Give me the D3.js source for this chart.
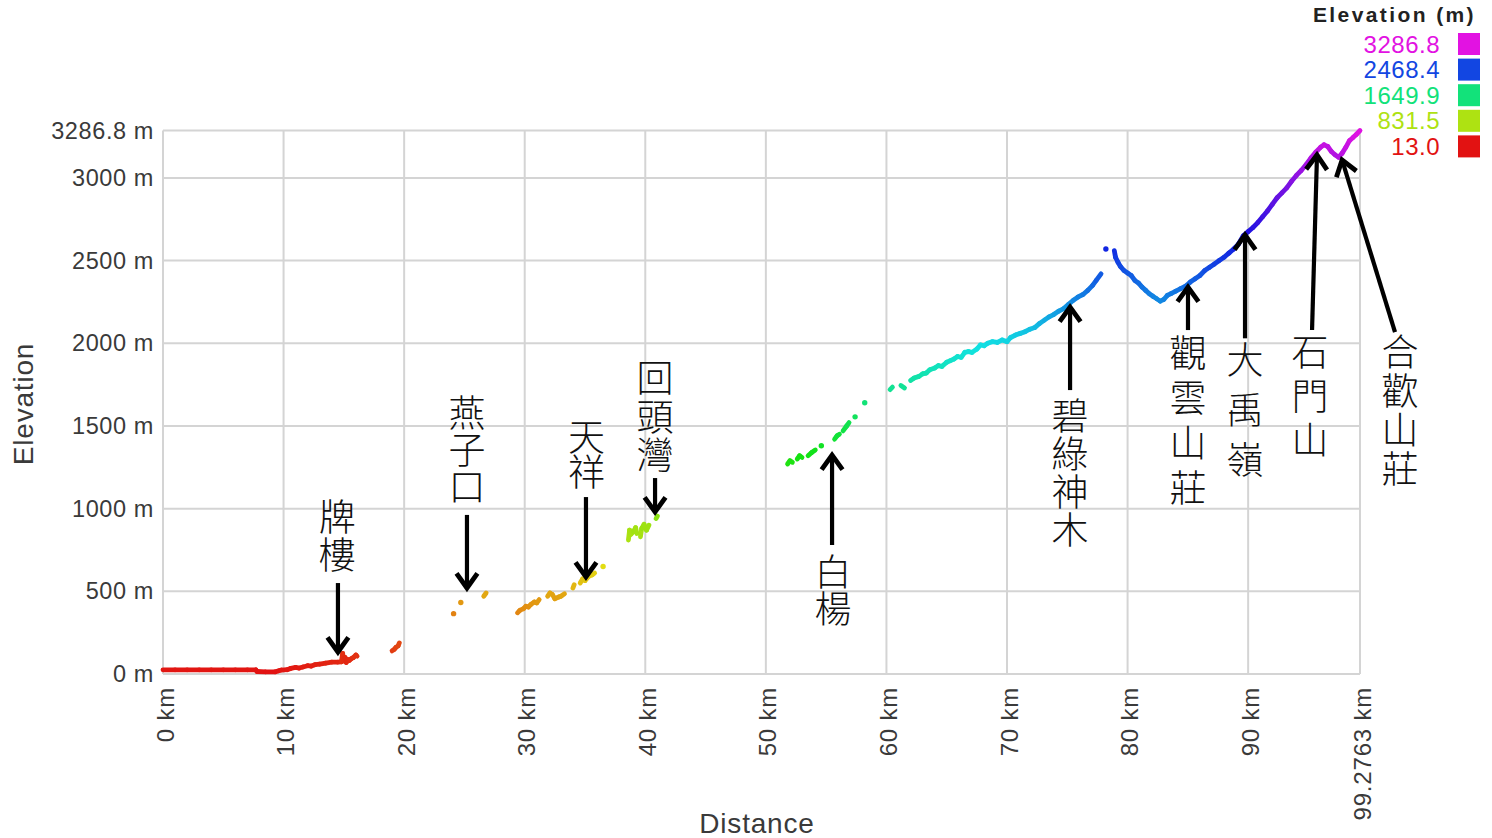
<!DOCTYPE html>
<html>
<head>
<meta charset="utf-8">
<script src="https://cdn.jsdelivr.net/npm/d3@7"></script>
<style>
  html, body { margin: 0; padding: 0; background: #fff; }
  svg { display: block; }
</style>
</head>
<body>
<svg id="chart" width="1492" height="838"></svg>
<script>
// ---------------- DATA ----------------
// Track distance (km) and elevation (m); null marks a gap in the recorded track.
const distanceKm = [
  0, 1, 2, 3, 4, 5, 6, 7, 7.7, 7.8, 8.5, 9.3, 9.6, 9.8, 10.3, 10.6, 11.0, 11.3, 11.6, 12.0, 12.3, 12.6, 13.0, 13.5, 14.0, 14.5, 14.8, 14.9, 15.0, 15.1, 15.2, 15.3, 15.45, 15.6, 15.8, 16.0, 16.1,
  null,
  19.0, 19.2, 19.3, 19.5, 19.6,
  null, 24.1, null, 24.7, null, 26.6, 26.8, null,
  29.4, 29.6, 29.9, 30.1, 30.3, 30.5, 30.8, 31.0, 31.2, null,
  31.9, 32.1, 32.3, 32.5, 32.8, 33.0, 33.3, null,
  34.0, 34.1, null, 34.6, 34.8, 35.0, 35.3, 35.6, 35.8, null, 36.5, null,
  38.6, 38.7, 38.8, 39.0, 39.2, 39.3, null, 39.6, 39.7, 39.9, 40.1, 40.3, null, 40.9, 41.0, null,
  51.8, 52.0, 52.2, null, 52.6, 52.8, 53.0, null, 53.5, 53.8, 54.1, null, 54.6, null,
  55.7, 55.9, 56.1, null, 56.4, 56.7, 56.9, null, 57.4, null, 58.2, null,
  60.3, 60.5, null, 61.2, 61.5, null,
  62.0, 62.3, 62.7, 63.0, 63.3, 63.6, 64.0, 64.3, 64.6, 65.0, 65.3, 65.6, 65.9, 66.2, 66.5, 66.8, 67.1, 67.5, 67.8, 68.1, 68.4, 68.8, 69.2, 69.6, 70.0, 70.3, 70.7, 71.1, 71.5, 71.9, 72.3, 72.7, 73.1, 73.5, 73.9, 74.3, 74.7, 75.1, 75.5, 75.9, 76.3, 76.7, 77.1, 77.4, 77.8,
  null, 78.2, null,
  78.9, 79.0, 79.2, 79.4, 79.7, 80.0, 80.3, 80.6, 80.9, 81.2, 81.5, 81.8, 82.1, 82.4, 82.7, 83.0, 83.3, 83.6, 84.0, 84.4, 84.8, 85.2, 85.6, 86.0, 86.4, 86.8, 87.2, 87.6, 88.0, 88.4, 88.8, 89.2, 89.6, 90.0, 90.4, 90.8, 91.2, 91.6, 92.0, 92.4, 92.8, 93.2, 93.6, 94.0, 94.4, 94.8, 95.2, 95.6, 96.0, 96.3, 96.6, 96.9, 97.2, 97.5, 97.8, 98.1, 98.4, 98.7, 99.0, 99.2763
];
const elevationM = [
  25, 25, 25, 25, 25, 25, 25, 25, 25, 15, 13, 13, 20, 24, 26, 34, 40, 36, 42, 50, 48, 56, 60, 66, 72, 72, 73, 125, 80, 100, 70, 88, 82, 92, 100, 115, 108,
  null,
  140, 150, 160, 170, 188,
  null, 365, null, 432, null, 470, 490, null,
  370, 385, 395, 410, 405, 420, 435, 430, 450, null,
  470, 490, 480, 455, 465, 470, 485, null,
  520, 540, null, 550, 575, 565, 590, 600, 610, null, 650, null,
  810, 870, 845, 860, 885, 850, null, 830, 880, 905, 870, 900, null, 940, 955, null,
  1270, 1290, 1280, null, 1300, 1320, 1310, null, 1320, 1340, 1355, null, 1380, null,
  1420, 1440, 1450, null, 1470, 1500, 1520, null, 1555, null, 1640, null,
  1720, 1735, null, 1745, 1730, null,
  1775, 1790, 1800, 1815, 1820, 1840, 1850, 1865, 1860, 1885, 1895, 1905, 1920, 1915, 1945, 1950, 1945, 1965, 1990, 1985, 2000, 2010, 2005, 2020, 2010, 2035, 2050, 2060, 2070, 2085, 2095, 2120, 2140, 2160, 2175, 2195, 2210, 2235, 2260, 2280, 2295, 2320, 2350, 2380, 2420,
  null, 2570, null,
  2560, 2520, 2490, 2465, 2440, 2425, 2410, 2380, 2365, 2340, 2320, 2300, 2285, 2270, 2255, 2265, 2290, 2300, 2315, 2330, 2345, 2370, 2390, 2410, 2440, 2460, 2480, 2500, 2520, 2545, 2570, 2600, 2650, 2675, 2700, 2730, 2765, 2800, 2840, 2880, 2910, 2940, 2980, 3015, 3045, 3080, 3120, 3155, 3185, 3200, 3190, 3160, 3140, 3125, 3150, 3185, 3225, 3245, 3265, 3286.8
];

const minElev = 13.0;
const maxElev = 3286.8;
const totalKm = 99.2763;

const yTickValues = [0, 500, 1000, 1500, 2000, 2500, 3000, 3286.8];
const yTickLabels = ["0 m", "500 m", "1000 m", "1500 m", "2000 m", "2500 m", "3000 m", "3286.8 m"];
const xTickValues = [0, 10, 20, 30, 40, 50, 60, 70, 80, 90, 99.2763];
const xTickLabels = ["0 km", "10 km", "20 km", "30 km", "40 km", "50 km", "60 km", "70 km", "80 km", "90 km", "99.2763 km"];

const legendValues = [3286.8, 2468.4, 1649.9, 831.5, 13.0];
const legendLabels = ["3286.8", "2468.4", "1649.9", "831.5", "13.0"];

// Landmarks: name, arrow tail (km, m), arrow tip (km, m), label anchor (km, m of first character centre)
const landmarkNames = ["牌樓", "燕子口", "天祥", "回頭灣", "白楊", "碧綠神木", "觀雲山莊", "大禹嶺", "石門山", "合歡山莊"];
const landmarkTailKm = [14.51, 25.21, 35.08, 40.81, 55.49, 75.23, 85.01, 89.74, 95.30, 102.18];
const landmarkTailM  = [550, 962, 1070, 1185, 780, 1717, 2080, 2030, 2080, 2068];
const landmarkTipKm  = [14.51, 25.21, 35.08, 40.81, 55.49, 75.23, 85.01, 89.74, 95.71, 97.79];
const landmarkTipM   = [133, 520, 587, 980, 1324, 2219, 2340, 2655, 3139, 3108];
const landmarkLabelKm = [14.45, 25.21, 35.13, 40.81, 55.57, 75.23, 85.01, 89.74, 95.13, 102.6];
const landmarkLabelM  = [949, 1578, 1433, 1790, 617, 1560, 1941, 1899, 1947, 1947];
const landmarkCharStep = [38, 37, 35, 38.5, 37, 38, 45, 50, 44, 39];

// ---------------- CHART ----------------
const svg = d3.select("#chart");
const plot = { left: 163, right: 1360, top: 130.5, bottom: 674 };

const x = d3.scaleLinear().domain([0, totalKm]).range([plot.left, plot.right]);
const y = d3.scaleLinear().domain([0, maxElev]).range([plot.bottom, plot.top]);
const hue = d3.scaleLinear().domain([minElev, maxElev]).range([0, 300]).clamp(true);
const colorOf = e => d3.hsl(hue(e), 0.85, 0.48).formatHex();

const gridColor = "#d4d4d4";
const textColor = "#3a3a3a";
const latin = "'Liberation Sans', Arial, sans-serif";
const cjk = "'Noto Sans CJK TC', 'Noto Sans CJK SC', sans-serif";

// grid
const grid = svg.append("g");
grid.selectAll("line.h").data(yTickValues).join("line")
  .attr("x1", plot.left).attr("x2", plot.right)
  .attr("y1", d => y(d)).attr("y2", d => y(d))
  .attr("stroke", gridColor).attr("stroke-width", 2);
grid.selectAll("line.v").data(xTickValues).join("line")
  .attr("y1", plot.top).attr("y2", plot.bottom)
  .attr("x1", d => x(d)).attr("x2", d => x(d))
  .attr("stroke", gridColor).attr("stroke-width", 2);

// y axis
const yAxis = d3.axisLeft(y).tickValues(yTickValues)
  .tickFormat((d, i) => yTickLabels[i]).tickSize(0).tickPadding(9);
const gy = svg.append("g").attr("transform", `translate(${plot.left},0)`).call(yAxis);
gy.select(".domain").remove();
gy.selectAll("text").attr("font-family", latin).attr("font-size", 23.5)
  .attr("letter-spacing", 0.6).attr("fill", textColor);

// x axis
const xAxis = d3.axisBottom(x).tickValues(xTickValues)
  .tickFormat((d, i) => xTickLabels[i]).tickSize(0);
const gx = svg.append("g").attr("transform", `translate(0,${plot.bottom})`).call(xAxis);
gx.select(".domain").remove();
gx.selectAll("text")
  .attr("font-family", latin).attr("font-size", 24).attr("letter-spacing", 0.8).attr("fill", textColor)
  .attr("text-anchor", "end")
  .attr("dy", null).attr("y", null)
  .attr("transform", "translate(10,13) rotate(-90)");

// axis titles
svg.append("text").text("Elevation")
  .attr("font-family", latin).attr("font-size", 28).attr("letter-spacing", 0.8).attr("fill", textColor)
  .attr("text-anchor", "middle")
  .attr("transform", `translate(33,404) rotate(-90)`);
svg.append("text").text("Distance")
  .attr("x", 757).attr("y", 833)
  .attr("font-family", latin).attr("font-size", 28).attr("letter-spacing", 0.8).attr("fill", textColor)
  .attr("text-anchor", "middle");

// track
const pts = distanceKm.map((d, i) => ({ km: d, m: elevationM[i] }));
const track = svg.append("g");
for (let i = 0; i < pts.length; i++) {
  const p = pts[i];
  if (p.km === null) continue;
  const prev = pts[i - 1], next = pts[i + 1];
  const isolated = (!prev || prev.km === null) && (!next || next.km === null);
  if (isolated) {
    track.append("circle").attr("cx", x(p.km)).attr("cy", y(p.m)).attr("r", 2.7)
      .attr("fill", colorOf(p.m));
  }
  if (next && next.km !== null) {
    track.append("line")
      .attr("x1", x(p.km)).attr("y1", y(p.m))
      .attr("x2", x(next.km)).attr("y2", y(next.m))
      .attr("stroke", colorOf((p.m + next.m) / 2))
      .attr("stroke-width", 4.8).attr("stroke-linecap", "round");
  }
}

// landmarks
const ann = svg.append("g");
const cjkSize = 37;
landmarkNames.forEach((name, i) => {
  const x1 = x(landmarkTailKm[i]), y1 = y(landmarkTailM[i]);
  const x2 = x(landmarkTipKm[i]), y2 = y(landmarkTipM[i]);
  const ang = Math.atan2(y2 - y1, x2 - x1);
  const hl = 18, hw = 0.62;
  const ax = x2 - hl * Math.cos(ang - hw), ay = y2 - hl * Math.sin(ang - hw);
  const bx = x2 - hl * Math.cos(ang + hw), by = y2 - hl * Math.sin(ang + hw);
  ann.append("line").attr("x1", x1).attr("y1", y1).attr("x2", x2 - 2 * Math.cos(ang)).attr("y2", y2 - 2 * Math.sin(ang))
    .attr("stroke", "#000").attr("stroke-width", 4.2);
  ann.append("path").attr("d", `M${ax},${ay}L${x2},${y2}L${bx},${by}`)
    .attr("fill", "none").attr("stroke", "#000").attr("stroke-width", 4.8)
    .attr("stroke-linejoin", "miter").attr("stroke-linecap", "butt");
  const lx = x(landmarkLabelKm[i]), ly = y(landmarkLabelM[i]);
  ann.append("text").text(name)
    .attr("x", lx).attr("y", ly - cjkSize / 2)
    .attr("text-anchor", "start")
    .style("writing-mode", "vertical-rl")
    .style("text-orientation", "upright")
    .attr("letter-spacing", landmarkCharStep[i] - cjkSize)
    .attr("font-family", cjk).attr("font-weight", 300)
    .attr("font-size", cjkSize).attr("fill", "#111");
});

// legend
const lg = svg.append("g");
lg.append("text").text("Elevation (m)")
  .attr("x", 1476).attr("y", 22)
  .attr("text-anchor", "end")
  .attr("font-family", latin).attr("font-weight", "bold").attr("font-size", 21)
  .attr("letter-spacing", 2.4).attr("fill", "#222");
legendValues.forEach((v, i) => {
  const cy = 44 + i * 25.6;
  lg.append("text").text(legendLabels[i])
    .attr("x", 1440).attr("y", cy).attr("dy", "0.36em")
    .attr("text-anchor", "end")
    .attr("font-family", latin).attr("font-size", 24).attr("letter-spacing", 0.5).attr("fill", colorOf(v));
  lg.append("rect").attr("x", 1458).attr("y", cy - 11).attr("width", 22).attr("height", 22)
    .attr("fill", colorOf(v));
});
</script>
</body>
</html>
